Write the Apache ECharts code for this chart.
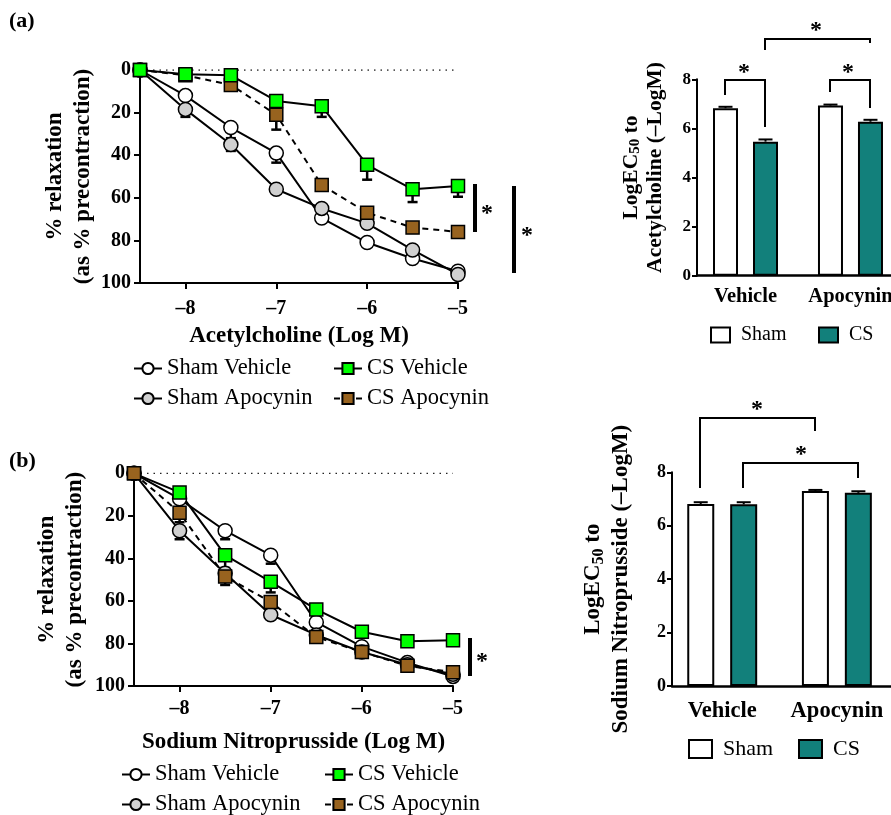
<!DOCTYPE html>
<html><head><meta charset="utf-8">
<script src="https://cdn.jsdelivr.net/npm/echarts@6/dist/echarts.min.js"></script>
<style>html,body{margin:0;padding:0;background:#fff}#c{width:891px;height:815px}</style>
</head><body><div id="c"></div><script>
// ---------- data ----------
const doses = [-8.5, -8, -7.5, -7, -6.5, -6, -5.5, -5];
const doseTicks = [-8, -7, -6, -5];
// (a) Acetylcholine, % relaxation
const achShamVeh    = [0, 12, 27, 39, 69.5, 81, 88.5, 94.5];
const achShamVehErr = [0, 0, 5, 4.5, 0, 0, 0, 0];
const achShamApo    = [0, 18.5, 35, 56, 65, 72, 84.5, 96];
const achShamApoErr = [0, 3.5, 3, 0, 0, 0, 0, 0];
const achCSVeh      = [0, 2, 2.5, 14.5, 17, 44.5, 56, 54.5];
const achCSVehErr   = [0, 0, 0, 0, 5, 7, 6, 5];
const achCSApo      = [0, 2.5, 7, 21, 54, 67, 74, 76];
const achCSApoErr   = [0, 0, 2, 7, 0, 0, 0, 0];
// (b) Sodium nitroprusside, % relaxation
const snpShamVeh    = [0, 12, 27, 38.5, 70, 81.5, 89, 95.5];
const snpShamVehErr = [0, 0, 4, 4, 0, 0, 0, 0];
const snpShamApo    = [0, 27, 47, 66.5, 76, 84, 90, 94.5];
const snpShamApoErr = [0, 4, 0, 2, 0, 0, 0, 0];
const snpCSVeh      = [0, 9, 38.5, 51, 64, 74.5, 79, 78.5];
const snpCSVehErr   = [0, 0, 6, 5, 0, 0, 0, 0];
const snpCSApo      = [0, 18.5, 48.5, 60.5, 77, 84, 90.5, 93.5];
const snpCSApoErr   = [0, 4.5, 4, 4, 2, 2, 0, 0];
// LogEC50 bars
const groups = ['Vehicle', 'Apocynin'];
const achShamEC50 = [6.82, 6.93];
const achShamEC50Err = [0.06, 0.04];
const achCSEC50 = [5.46, 6.27];
const achCSEC50Err = [0.09, 0.08];
const snpShamEC50 = [6.81, 7.30];
const snpShamEC50Err = [0.07, 0.04];
const snpCSEC50 = [6.80, 7.23];
const snpCSEC50Err = [0.08, 0.06];

// ---------- styles ----------
const FONT = 'Liberation Serif';
const GREEN = '#00ff00', BROWN = '#98631f', GRAY = '#d0d0d0', TEAL = '#12807b';
const styles = {
  'Sham Vehicle':  {symbol: 'circle', color: '#ffffff', dash: 'solid'},
  'Sham Apocynin': {symbol: 'circle', color: GRAY, dash: 'solid'},
  'CS Vehicle':    {symbol: 'rect', color: GREEN, dash: 'solid'},
  'CS Apocynin':   {symbol: 'rect', color: BROWN, dash: [6, 5]}
};
const dash = s => String(s).replace('-', '–');

function pairs(xs, ys) { return xs.map((x, i) => [x, ys[i]]); }
function triples(xs, ys, es) { return xs.map((x, i) => [x, ys[i], es[i]]); }

function errSeries(xi, yi, data) {
  return {
    type: 'custom', xAxisIndex: xi, yAxisIndex: yi, z: 1, silent: true, clip: false,
    encode: {x: 0, y: 1},
    data: data,
    renderItem: function (params, api) {
      const e = api.value(2);
      if (!e) return null;
      const p1 = api.coord([api.value(0), api.value(1)]);
      const p2 = api.coord([api.value(0), api.value(1) + e]);
      const st = {stroke: '#000', lineWidth: 2.5};
      return {type: 'group', children: [
        {type: 'line', shape: {x1: p1[0], y1: p1[1], x2: p2[0], y2: p2[1]}, style: st},
        {type: 'line', shape: {x1: p2[0] - 5, y1: p2[1], x2: p2[0] + 5, y2: p2[1]}, style: st}
      ]};
    }
  };
}

function lineSeries(name, xi, yi, vals, errs) {
  const s = styles[name];
  return [
    errSeries(xi, yi, triples(doses, vals, errs)),
    {
      type: 'line', name: name, xAxisIndex: xi, yAxisIndex: yi, z: 3,
      data: pairs(doses, vals),
      symbol: s.symbol, symbolSize: s.symbol === 'circle' ? 14 : 13,
      showSymbol: true, animation: false,
      lineStyle: {color: '#000', width: 2, type: s.dash},
      itemStyle: {color: s.color, borderColor: '#000', borderWidth: 1.5}
    }
  ];
}

function zeroLine(xi, yi) {
  return {type: 'line', xAxisIndex: xi, yAxisIndex: yi, z: 0, silent: true, symbol: 'none',
    data: [[doses[0], 0], [doses[doses.length - 1], 0]],
    lineStyle: {color: '#222', width: 1.5, type: [1.5, 5]}};
}

function barErr(xi, yi, vals, errs, off) {
  return {
    type: 'custom', xAxisIndex: xi, yAxisIndex: yi, z: 4, silent: true, clip: false,
    encode: {x: 0, y: 1},
    data: vals.map((v, i) => [i, v, errs[i]]),
    renderItem: function (params, api) {
      const p1 = api.coord([api.value(0), api.value(1)]);
      const p2 = api.coord([api.value(0), api.value(1) + api.value(2)]);
      const x = p1[0] + off;
      const st = {stroke: '#000', lineWidth: 2};
      return {type: 'group', children: [
        {type: 'line', shape: {x1: x, y1: p1[1], x2: x, y2: p2[1]}, style: st},
        {type: 'line', shape: {x1: x - 7, y1: p2[1], x2: x + 7, y2: p2[1]}, style: st}
      ]};
    }
  };
}

function barSeries(name, xi, yi, vals, w, gap) {
  return {type: 'bar', name: name, xAxisIndex: xi, yAxisIndex: yi,
    data: vals.map((v, i) => [i, v]),
    barWidth: w, barGap: gap, z: 2,
    itemStyle: {color: name === 'Sham' ? '#ffffff' : TEAL, borderColor: '#000', borderWidth: 2}};
}

const tickLbl = {fontFamily: FONT, fontWeight: 'bold', fontSize: 20, color: '#000'};
const nameStyle = {fontFamily: FONT, fontWeight: 'bold', fontSize: 23, color: '#000', lineHeight: 28};

function doseAxis(gi, title, gap, margin) {
  return {type: 'value', gridIndex: gi, min: -8.5, max: -5, position: 'bottom',
    axisLine: {show: true, onZero: false, lineStyle: {color: '#000', width: 2}},
    axisTick: {show: true, length: 6, lineStyle: {width: 2, color: '#000'}, customValues: doseTicks},
    axisLabel: Object.assign({customValues: doseTicks, formatter: dash, margin: margin}, tickLbl),
    splitLine: {show: false},
    name: title, nameLocation: 'middle', nameGap: gap, nameTextStyle: nameStyle};
}
function relaxAxis(gi, gap) {
  return {type: 'value', gridIndex: gi, min: 0, max: 100, interval: 20, inverse: true,
    axisLine: {show: true, onZero: false, lineStyle: {color: '#000', width: 2}},
    axisTick: {show: true, length: 6, lineStyle: {width: 2, color: '#000'}},
    axisLabel: Object.assign({margin: 9}, tickLbl),
    splitLine: {show: false},
    name: '% relaxation\n(as % precontraction)', nameLocation: 'middle', nameRotate: 90,
    nameGap: gap, nameTextStyle: nameStyle};
}
function groupAxis(gi, min, max, margin, size) {
  return {type: 'value', gridIndex: gi, min: min, max: max,
    axisLine: {show: true, onZero: false, lineStyle: {color: '#000', width: 2.5}},
    axisTick: {show: false},
    axisLabel: {customValues: [0, 1], formatter: v => groups[Math.round(v)],
      fontFamily: FONT, fontWeight: 'bold', fontSize: size, color: '#000', margin: margin},
    splitLine: {show: false}};
}
function ec50Axis(gi, agent, gap, size, lh, tsize, shift) {
  return {type: 'value', gridIndex: gi, min: 0, max: 8, interval: 2,
    axisLine: {show: true, onZero: false, lineStyle: {color: '#000', width: 2}},
    axisTick: {show: true, length: 5, lineStyle: {width: 2, color: '#000'}},
    axisLabel: {margin: 6, fontFamily: FONT, fontWeight: 'bold', fontSize: tsize, color: '#000'},
    splitLine: {show: false},
    name: '{b|LogEC}{s|50}{b| to}\n{b|' + agent + ' (–LogM)}',
    nameLocation: 'middle', nameRotate: 90, nameGap: gap,
    nameTextStyle: {padding: [0, 0, 0, shift], rich: {
      b: {fontFamily: FONT, fontWeight: 'bold', fontSize: size, color: '#000', lineHeight: lh},
      s: {fontFamily: FONT, fontWeight: 'bold', fontSize: Math.round(size * 0.68), color: '#000', lineHeight: 10, verticalAlign: 'bottom'}
    }}};
}

function lineLegend(name, left, top) {
  return {data: [name], left: left, top: top, padding: 0, itemWidth: 28, itemHeight: 14,
    selectedMode: false, textStyle: {fontFamily: FONT, fontSize: 22.5, color: '#000'}};
}
function barLegend(name, left, top, w, h, size) {
  return {data: [name], left: left, top: top, padding: 0, itemWidth: w, itemHeight: h,
    icon: 'rect', selectedMode: false,
    textStyle: {fontFamily: FONT, fontSize: size, color: '#000', padding: [0, 0, 0, 6]}};
}

const series = [
  zeroLine(0, 0),
  ...lineSeries('Sham Vehicle', 0, 0, achShamVeh, achShamVehErr),
  ...lineSeries('Sham Apocynin', 0, 0, achShamApo, achShamApoErr),
  ...lineSeries('CS Apocynin', 0, 0, achCSApo, achCSApoErr),
  ...lineSeries('CS Vehicle', 0, 0, achCSVeh, achCSVehErr),
  barSeries('Sham', 1, 1, achShamEC50, 25, '60%'),
  barSeries('CS', 1, 1, achCSEC50, 25, '60%'),
  barErr(1, 1, achShamEC50, achShamEC50Err, -20),
  barErr(1, 1, achCSEC50, achCSEC50Err, 20),
  zeroLine(2, 2),
  ...lineSeries('Sham Vehicle', 2, 2, snpShamVeh, snpShamVehErr),
  ...lineSeries('Sham Apocynin', 2, 2, snpShamApo, snpShamApoErr),
  ...lineSeries('CS Vehicle', 2, 2, snpCSVeh, snpCSVehErr),
  ...lineSeries('CS Apocynin', 2, 2, snpCSApo, snpCSApoErr),
  barSeries('Sham', 3, 3, snpShamEC50, 27, '59%'),
  barSeries('CS', 3, 3, snpCSEC50, 27, '59%'),
  barErr(3, 3, snpShamEC50, snpShamEC50Err, -21.5),
  barErr(3, 3, snpCSEC50, snpCSEC50Err, 21.5)
];

function txt(x, y, t, size) {
  return {type: 'text', x: x, y: y, silent: true,
    style: {text: t, font: 'bold ' + size + 'px "' + FONT + '"', fill: '#000', align: 'center', verticalAlign: 'middle'}};
}
function star(x, y) { return txt(x, y + 5, '*', 24); }
function vbar(x, y1, y2) {
  return {type: 'line', silent: true, shape: {x1: x, y1: y1, x2: x, y2: y2}, style: {stroke: '#000', lineWidth: 4}};
}
function bracket(pts) {
  return {type: 'polyline', silent: true, shape: {points: pts}, style: {stroke: '#000', lineWidth: 2, fill: null}};
}

const graphic = [
  {type: 'text', left: 9, top: 10, style: {text: '(a)', font: 'bold 22px "' + FONT + '"', fill: '#000'}},
  {type: 'text', left: 9, top: 450, style: {text: '(b)', font: 'bold 22px "' + FONT + '"', fill: '#000'}},
  vbar(475, 184, 232), star(487, 209),
  vbar(514, 186, 273), star(527, 231),
  vbar(470, 638, 676), star(482, 657),
  bracket([[725, 95], [725, 80], [765, 80], [765, 127]]), star(744, 68),
  bracket([[830, 92], [830, 80], [870, 80], [870, 108]]), star(848, 68),
  bracket([[765, 50], [765, 39], [870, 39], [870, 43]]), star(816, 26),
  bracket([[700, 488], [700, 418], [815, 418], [815, 431]]), star(757, 405),
  bracket([[743, 488], [743, 463], [858, 463], [858, 478]]), star(801, 450)
];

const option = {
  animation: false,
  backgroundColor: '#fff',
  grid: [
    {left: 140, right: 433, top: 70, bottom: 532, outerBoundsMode: 'none'},
    {left: 697, right: 0, top: 79.3, bottom: 539.3, outerBoundsMode: 'none'},
    {left: 134, right: 438, top: 473.3, bottom: 129, outerBoundsMode: 'none'},
    {left: 672, right: 0, top: 472.3, bottom: 129, outerBoundsMode: 'none'}
  ],
  xAxis: [
    doseAxis(0, 'Acetylcholine (Log M)', 39, 16),
    groupAxis(1, -0.462, 1.386, 11, 20.5),
    doseAxis(2, 'Sodium Nitroprusside (Log M)', 42, 13),
    groupAxis(3, -0.438, 1.472, 14, 22.5)
  ],
  yAxis: [
    relaxAxis(0, 43),
    ec50Axis(1, 'Acetylcholine', 30, 21.5, 24, 17, 20),
    relaxAxis(2, 45),
    ec50Axis(3, 'Sodium Nitroprusside', 37, 23, 28, 18, 0)
  ],
  legend: [
    lineLegend('Sham Vehicle', 133, 357),
    lineLegend('CS Vehicle', 333, 357),
    lineLegend('Sham Apocynin', 133, 387),
    lineLegend('CS Apocynin', 333, 387),
    lineLegend('Sham Vehicle', 121, 763),
    lineLegend('CS Vehicle', 324, 763),
    lineLegend('Sham Apocynin', 121, 793),
    lineLegend('CS Apocynin', 324, 793),
    barLegend('Sham', 710, 325, 19, 15, 20),
    barLegend('CS', 818, 325, 19, 15, 20),
    barLegend('Sham', 688, 738, 23, 18, 22),
    barLegend('CS', 798, 738, 23, 18, 22)
  ],
  series: series,
  graphic: graphic
};
const chart = echarts.init(document.getElementById('c'), null, {renderer: 'canvas'});
chart.setOption(option);
</script></body></html>
